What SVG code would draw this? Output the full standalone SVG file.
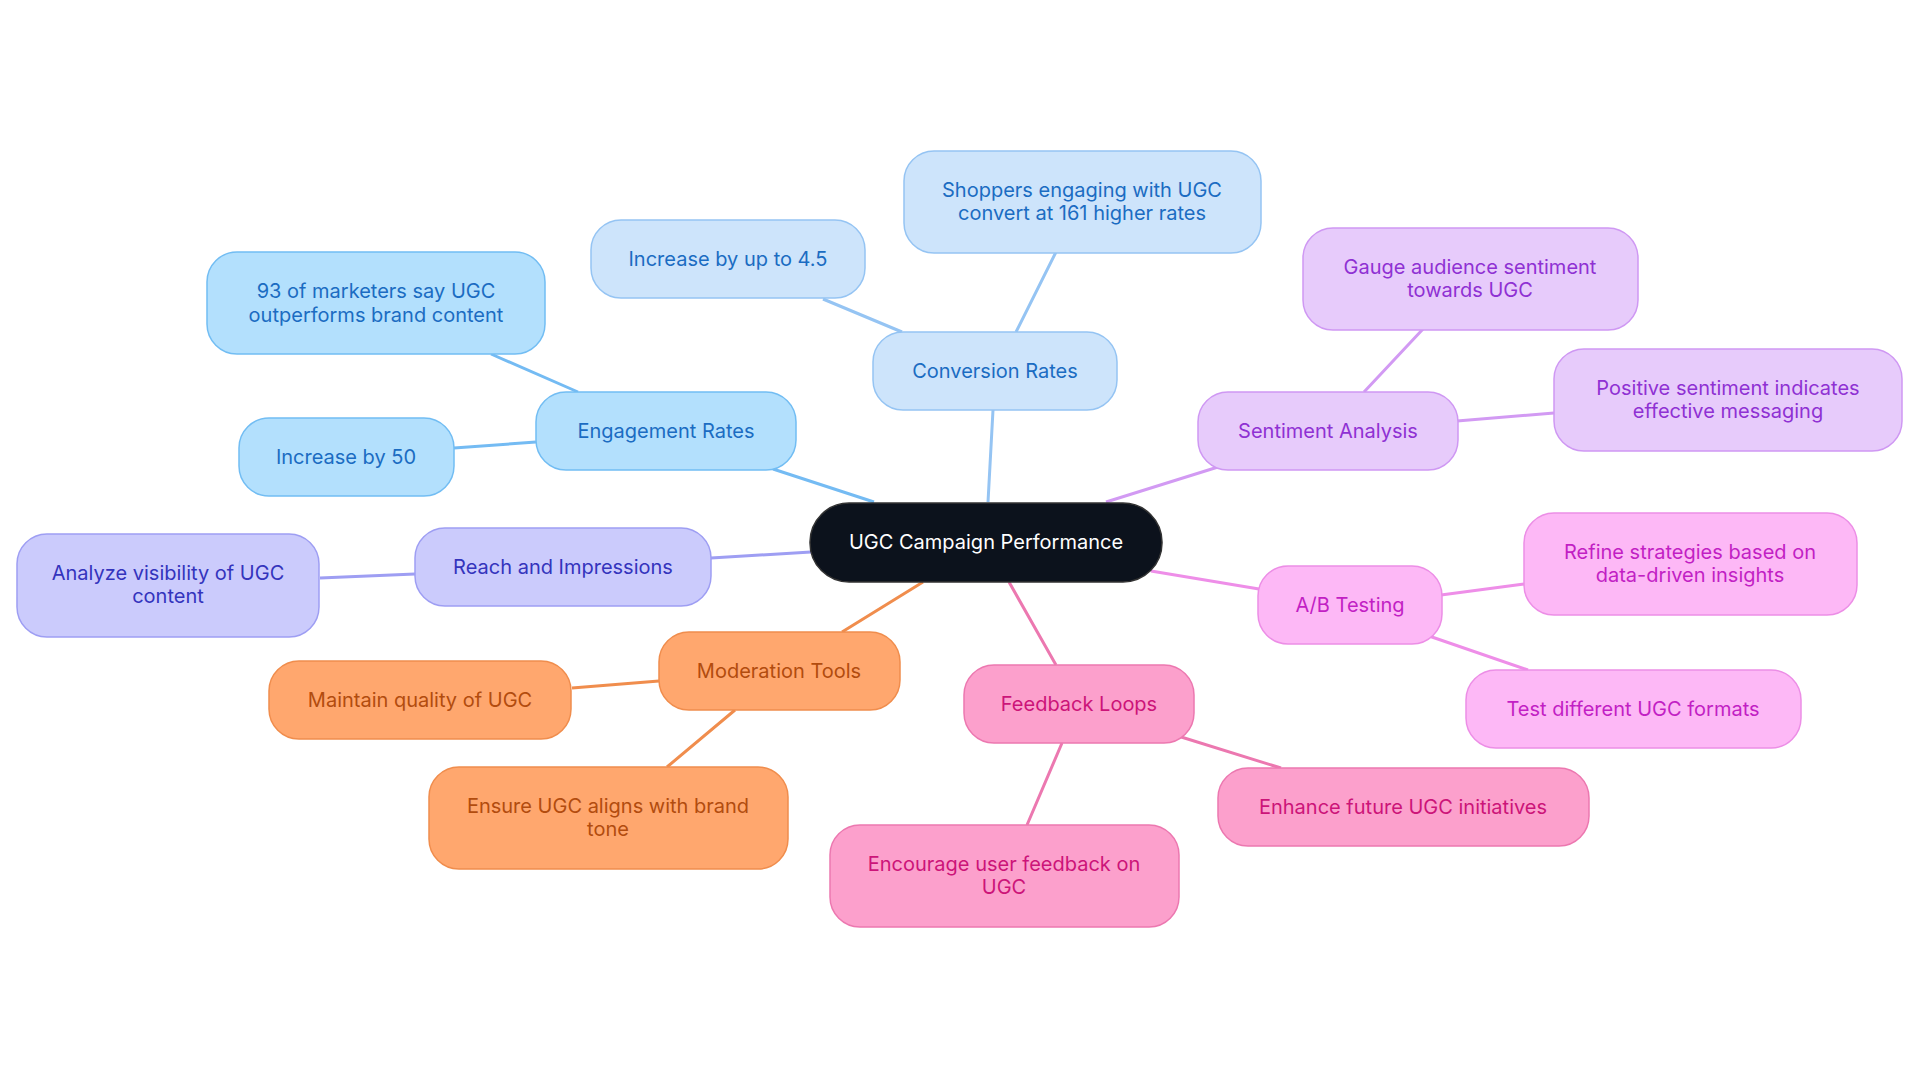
<svg xmlns="http://www.w3.org/2000/svg" width="1920" height="1083" viewBox="0 0 1920 1083">
<style>
text{font-family:Inter,"Noto Sans",sans-serif;font-size:20px;text-anchor:middle;dominant-baseline:central}
rect{stroke-width:1.5}
.e path{fill:none;stroke-width:3}
.bl rect{fill:#b3e0fd;stroke:#72bdf3}.bl text{fill:#1b6cc2}
.lb rect{fill:#cde4fb;stroke:#95c4f3}.lb text{fill:#1b6cc2}
.pu rect{fill:#e7cbfb;stroke:#cf98f3}.pu text{fill:#8f31d3}
.in rect{fill:#cbcbfc;stroke:#9e9ef3}.in text{fill:#3434bd}
.mg rect{fill:#fdb8f6;stroke:#ec8ee6}.mg text{fill:#c21fc4}
.or rect{fill:#ffa76e;stroke:#f08d4d}.or text{fill:#b24c0e}
.pk rect{fill:#fca0cc;stroke:#ec78b0}.pk text{fill:#cc1479}
</style>
<g class="e">
<path stroke="#74bbf3" d="M874 502L773 469M578 392L491 354M536 442L454 448"/>
<path stroke="#95c4f3" d="M988 502L993 410M902 332L823 299M1016 332L1056 252"/>
<path stroke="#d29af3" d="M1106 502L1218 467M1364 392L1423 329M1457 421L1554 413"/>
<path stroke="#9e9ef3" d="M811 552L711 558M415 574L320 578"/>
<path stroke="#ee8ee8" d="M1151 571L1259 589M1441 595L1524 584M1429 636L1528 670"/>
<path stroke="#f08d4d" d="M923 582L842 632M659 681L572 688M735 710L667 767"/>
<path stroke="#ec78b0" d="M1009 582L1056 665M1178 736L1281 768M1062 743L1027 825"/>
</g>
<g id="center"><rect x="810" y="503" width="352" height="79" rx="39" fill="#0c121c" stroke="#333" /><text x="986" y="542" fill="#fff">UGC Campaign Performance</text></g>
<g id="eng" class="bl"><rect x="536" y="392" width="260" height="78" rx="30"/><text x="666" y="431">Engagement Rates</text></g>
<g id="m93" class="bl"><rect x="207" y="252" width="338" height="102" rx="30"/><text x="376" y="291">93 of marketers say UGC</text><text x="376" y="315">outperforms brand content</text></g>
<g id="i50" class="bl"><rect x="239" y="418" width="215" height="78" rx="30"/><text x="346" y="457">Increase by 50</text></g>
<g id="conv" class="lb"><rect x="873" y="332" width="244" height="78" rx="30"/><text x="995" y="371">Conversion Rates</text></g>
<g id="i45" class="lb"><rect x="591" y="220" width="274" height="78" rx="30"/><text x="728" y="259">Increase by up to 4.5</text></g>
<g id="shop" class="lb"><rect x="904" y="151" width="357" height="102" rx="30"/><text x="1082" y="190">Shoppers engaging with UGC</text><text x="1082" y="213">convert at 161 higher rates</text></g>
<g id="sent" class="pu"><rect x="1198" y="392" width="260" height="78" rx="30"/><text x="1328" y="431">Sentiment Analysis</text></g>
<g id="gauge" class="pu"><rect x="1303" y="228" width="335" height="102" rx="30"/><text x="1470" y="267">Gauge audience sentiment</text><text x="1470" y="290">towards UGC</text></g>
<g id="pos" class="pu"><rect x="1554" y="349" width="348" height="102" rx="30"/><text x="1728" y="388">Positive sentiment indicates</text><text x="1728" y="411">effective messaging</text></g>
<g id="reach" class="in"><rect x="415" y="528" width="296" height="78" rx="30"/><text x="563" y="567">Reach and Impressions</text></g>
<g id="anal" class="in"><rect x="17" y="534" width="302" height="103" rx="30"/><text x="168" y="573">Analyze visibility of UGC</text><text x="168" y="596">content</text></g>
<g id="ab" class="mg"><rect x="1258" y="566" width="184" height="78" rx="30"/><text x="1350" y="605">A/B Testing</text></g>
<g id="refine" class="mg"><rect x="1524" y="513" width="333" height="102" rx="30"/><text x="1690" y="552">Refine strategies based on</text><text x="1690" y="575">data-driven insights</text></g>
<g id="test" class="mg"><rect x="1466" y="670" width="335" height="78" rx="30"/><text x="1633" y="709">Test different UGC formats</text></g>
<g id="mod" class="or"><rect x="659" y="632" width="241" height="78" rx="30"/><text x="779" y="671">Moderation Tools</text></g>
<g id="maint" class="or"><rect x="269" y="661" width="302" height="78" rx="30"/><text x="420" y="700">Maintain quality of UGC</text></g>
<g id="ensure" class="or"><rect x="429" y="767" width="359" height="102" rx="30"/><text x="608" y="806">Ensure UGC aligns with brand</text><text x="608" y="829">tone</text></g>
<g id="fb" class="pk"><rect x="964" y="665" width="230" height="78" rx="30"/><text x="1079" y="704">Feedback Loops</text></g>
<g id="enh" class="pk"><rect x="1218" y="768" width="371" height="78" rx="30"/><text x="1403" y="807">Enhance future UGC initiatives</text></g>
<g id="enc" class="pk"><rect x="830" y="825" width="349" height="102" rx="30"/><text x="1004" y="864">Encourage user feedback on</text><text x="1004" y="887">UGC</text></g>
</svg>
